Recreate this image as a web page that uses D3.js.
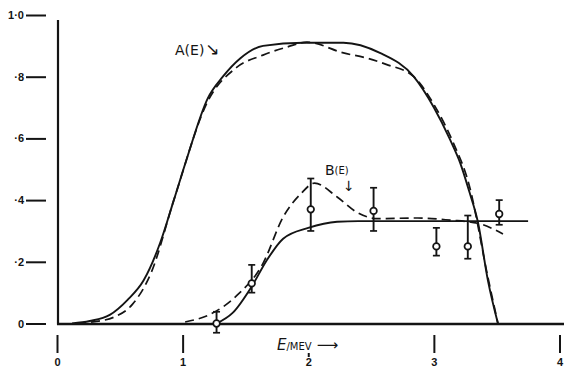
<!DOCTYPE html>
<html>
<head>
<meta charset="utf-8">
<script src="https://cdn.jsdelivr.net/npm/d3@7"></script>
<style>
body { margin: 0; background: #fff; }
svg { display: block; font-family: "DejaVu Sans", sans-serif; }
</style>
</head>
<body>
<svg id="chart" width="564" height="372"></svg>
<script>
// tick values
var energyTicks = [0, 1, 2, 3, 4];
var valueTicks = [0, 0.2, 0.4, 0.6, 0.8, 1.0];
var valueTickLabels = ["0", "·2", "·4", "·6", "·8", "1·0"];

// A(E) solid (E in MeV, value)
var aSolid = [[0.12, 0], [0.26, 0.008], [0.42, 0.028], [0.56, 0.076], [0.69, 0.14], [0.82, 0.26],
  [0.93, 0.40], [1.03, 0.53], [1.20, 0.73], [1.32, 0.80], [1.46, 0.86], [1.64, 0.90], [1.96, 0.91],
  [2.28, 0.91], [2.57, 0.877], [2.84, 0.80], [3.00, 0.70], [3.13, 0.595], [3.21, 0.52],
  [3.28, 0.43], [3.35, 0.33], [3.43, 0.14], [3.51, 0]];
// A(E) dashed
var aDashed = [[0.16, 0], [0.30, 0.006], [0.45, 0.02], [0.60, 0.062], [0.75, 0.165], [0.93, 0.40],
  [1.20, 0.72], [1.43, 0.83], [1.64, 0.87], [1.83, 0.896], [1.99, 0.912], [2.28, 0.877], [2.47, 0.86],
  [2.62, 0.84], [2.84, 0.80], [3.00, 0.71], [3.15, 0.59], [3.28, 0.45], [3.43, 0.15], [3.51, 0]];
// B(E) solid
var bSolid = [[1.27, 0], [1.40, 0.035], [1.55, 0.12], [1.67, 0.205], [1.80, 0.275], [2.00, 0.31],
  [2.23, 0.33], [2.40, 0.332], [3.75, 0.332]];
// B(E) dashed
var bDashed = [[1.02, 0.005], [1.22, 0.03], [1.43, 0.09], [1.64, 0.195], [1.80, 0.345], [1.94, 0.42],
  [2.05, 0.455], [2.23, 0.41], [2.39, 0.36], [2.55, 0.34], [2.87, 0.342], [3.13, 0.335],
  [3.35, 0.325], [3.55, 0.29]];

// measured points with error bars
var pointE = [1.27, 1.55, 2.02, 2.52, 3.02, 3.27, 3.52];
var pointV = [0.0, 0.13, 0.37, 0.365, 0.25, 0.25, 0.355];
var pointLo = [-0.03, 0.10, 0.30, 0.30, 0.22, 0.21, 0.32];
var pointHi = [0.038, 0.19, 0.47, 0.44, 0.31, 0.35, 0.40];

var ink = "#141414";
var svg = d3.select("#chart");

var x = d3.scaleLinear().domain([0, 4]).range([57, 559.5]);
var y = d3.scaleLinear().domain([0, 1]).range([323.5, 15]);

// axis lines
svg.append("line")
  .attr("x1", 58).attr("x2", 58).attr("y1", 20).attr("y2", 324.5)
  .attr("stroke", ink).attr("stroke-width", 2.2);
svg.append("line")
  .attr("x1", 57).attr("x2", 564).attr("y1", 324).attr("y2", 324)
  .attr("stroke", ink).attr("stroke-width", 2.4);

// y ticks, detached to the left of the axis
var yAxis = svg.append("g")
  .attr("transform", "translate(46,0)")
  .call(d3.axisLeft(y).tickValues(valueTicks).tickSize(20).tickPadding(2)
    .tickFormat(function(d, i) { return valueTickLabels[i]; }));
yAxis.select(".domain").remove();
yAxis.selectAll("line").attr("stroke", ink).attr("stroke-width", 2);
yAxis.selectAll("text").attr("fill", ink).attr("font-size", 11).attr("font-weight", "bold");

// x ticks, detached below the axis
var xAxis = svg.append("g")
  .attr("transform", "translate(0,335)")
  .call(d3.axisBottom(x).tickValues(energyTicks).tickSize(18).tickPadding(5)
    .tickFormat(d3.format("d")));
xAxis.select(".domain").remove();
xAxis.selectAll("line").attr("stroke", ink).attr("stroke-width", 2)
  .filter(function(d) { return d == 2; })
  .attr("y1", 18).attr("y2", 22);//tick for 2 is tiny, under the label
xAxis.selectAll("text").attr("fill", ink).attr("font-size", 11).attr("font-weight", "bold");

// curves
var line = d3.line()
  .x(function(d) { return x(d[0]); })
  .y(function(d) { return y(d[1]); })
  .curve(d3.curveMonotoneX);

function drawCurve(data, dashed) {
  svg.append("path")
    .datum(data)
    .attr("d", line)
    .attr("fill", "none")
    .attr("stroke", ink)
    .attr("stroke-width", dashed ? 1.7 : 1.9)
    .attr("stroke-dasharray", dashed ? "9,5" : null);
}
drawCurve(aSolid, false);
drawCurve(aDashed, true);
drawCurve(bSolid, false);
drawCurve(bDashed, true);

// error bars and points
var pts = pointE.map(function(e, i) {
  return {e: e, v: pointV[i], lo: pointLo[i], hi: pointHi[i]};
});
var pg = svg.append("g").selectAll("g").data(pts).enter().append("g");
pg.append("line")
  .attr("x1", function(d) { return x(d.e); }).attr("x2", function(d) { return x(d.e); })
  .attr("y1", function(d) { return y(d.lo); }).attr("y2", function(d) { return y(d.hi); })
  .attr("stroke", ink).attr("stroke-width", 1.9);
pg.append("line")
  .attr("x1", function(d) { return x(d.e) - 3.5; }).attr("x2", function(d) { return x(d.e) + 3.5; })
  .attr("y1", function(d) { return y(d.lo); }).attr("y2", function(d) { return y(d.lo); })
  .attr("stroke", ink).attr("stroke-width", 1.7);
pg.append("line")
  .attr("x1", function(d) { return x(d.e) - 3.5; }).attr("x2", function(d) { return x(d.e) + 3.5; })
  .attr("y1", function(d) { return y(d.hi); }).attr("y2", function(d) { return y(d.hi); })
  .attr("stroke", ink).attr("stroke-width", 1.7);
pg.append("circle")
  .attr("cx", function(d) { return x(d.e); })
  .attr("cy", function(d) { return y(d.v); })
  .attr("r", 3.3)
  .attr("fill", "#fff")
  .attr("stroke", ink).attr("stroke-width", 1.7);

// labels
var al = svg.append("text")
  .attr("x", 175).attr("y", 55)
  .attr("font-size", 14).attr("fill", ink);
al.append("tspan").text("A(E)");
al.append("tspan").attr("font-size", 17).attr("dx", 1).text("↘");

var bl = svg.append("text")
  .attr("x", 325).attr("y", 175)
  .attr("font-size", 14).attr("fill", ink);
bl.append("tspan").text("B");
bl.append("tspan").attr("font-size", 10).attr("dy", -1).text("(E)");
svg.append("text")
  .attr("x", 343).attr("y", 191)
  .attr("font-size", 14).attr("fill", ink)
  .text("↓");

var el = svg.append("text")
  .attr("x", 277).attr("y", 350)
  .attr("fill", ink).attr("font-size", 15);
el.append("tspan").attr("font-style", "italic").text("E");
el.append("tspan").attr("font-size", 10).text("/MEV");
el.append("tspan").attr("font-size", 15).attr("dx", 5).text("⟶");
</script>
</body>
</html>
